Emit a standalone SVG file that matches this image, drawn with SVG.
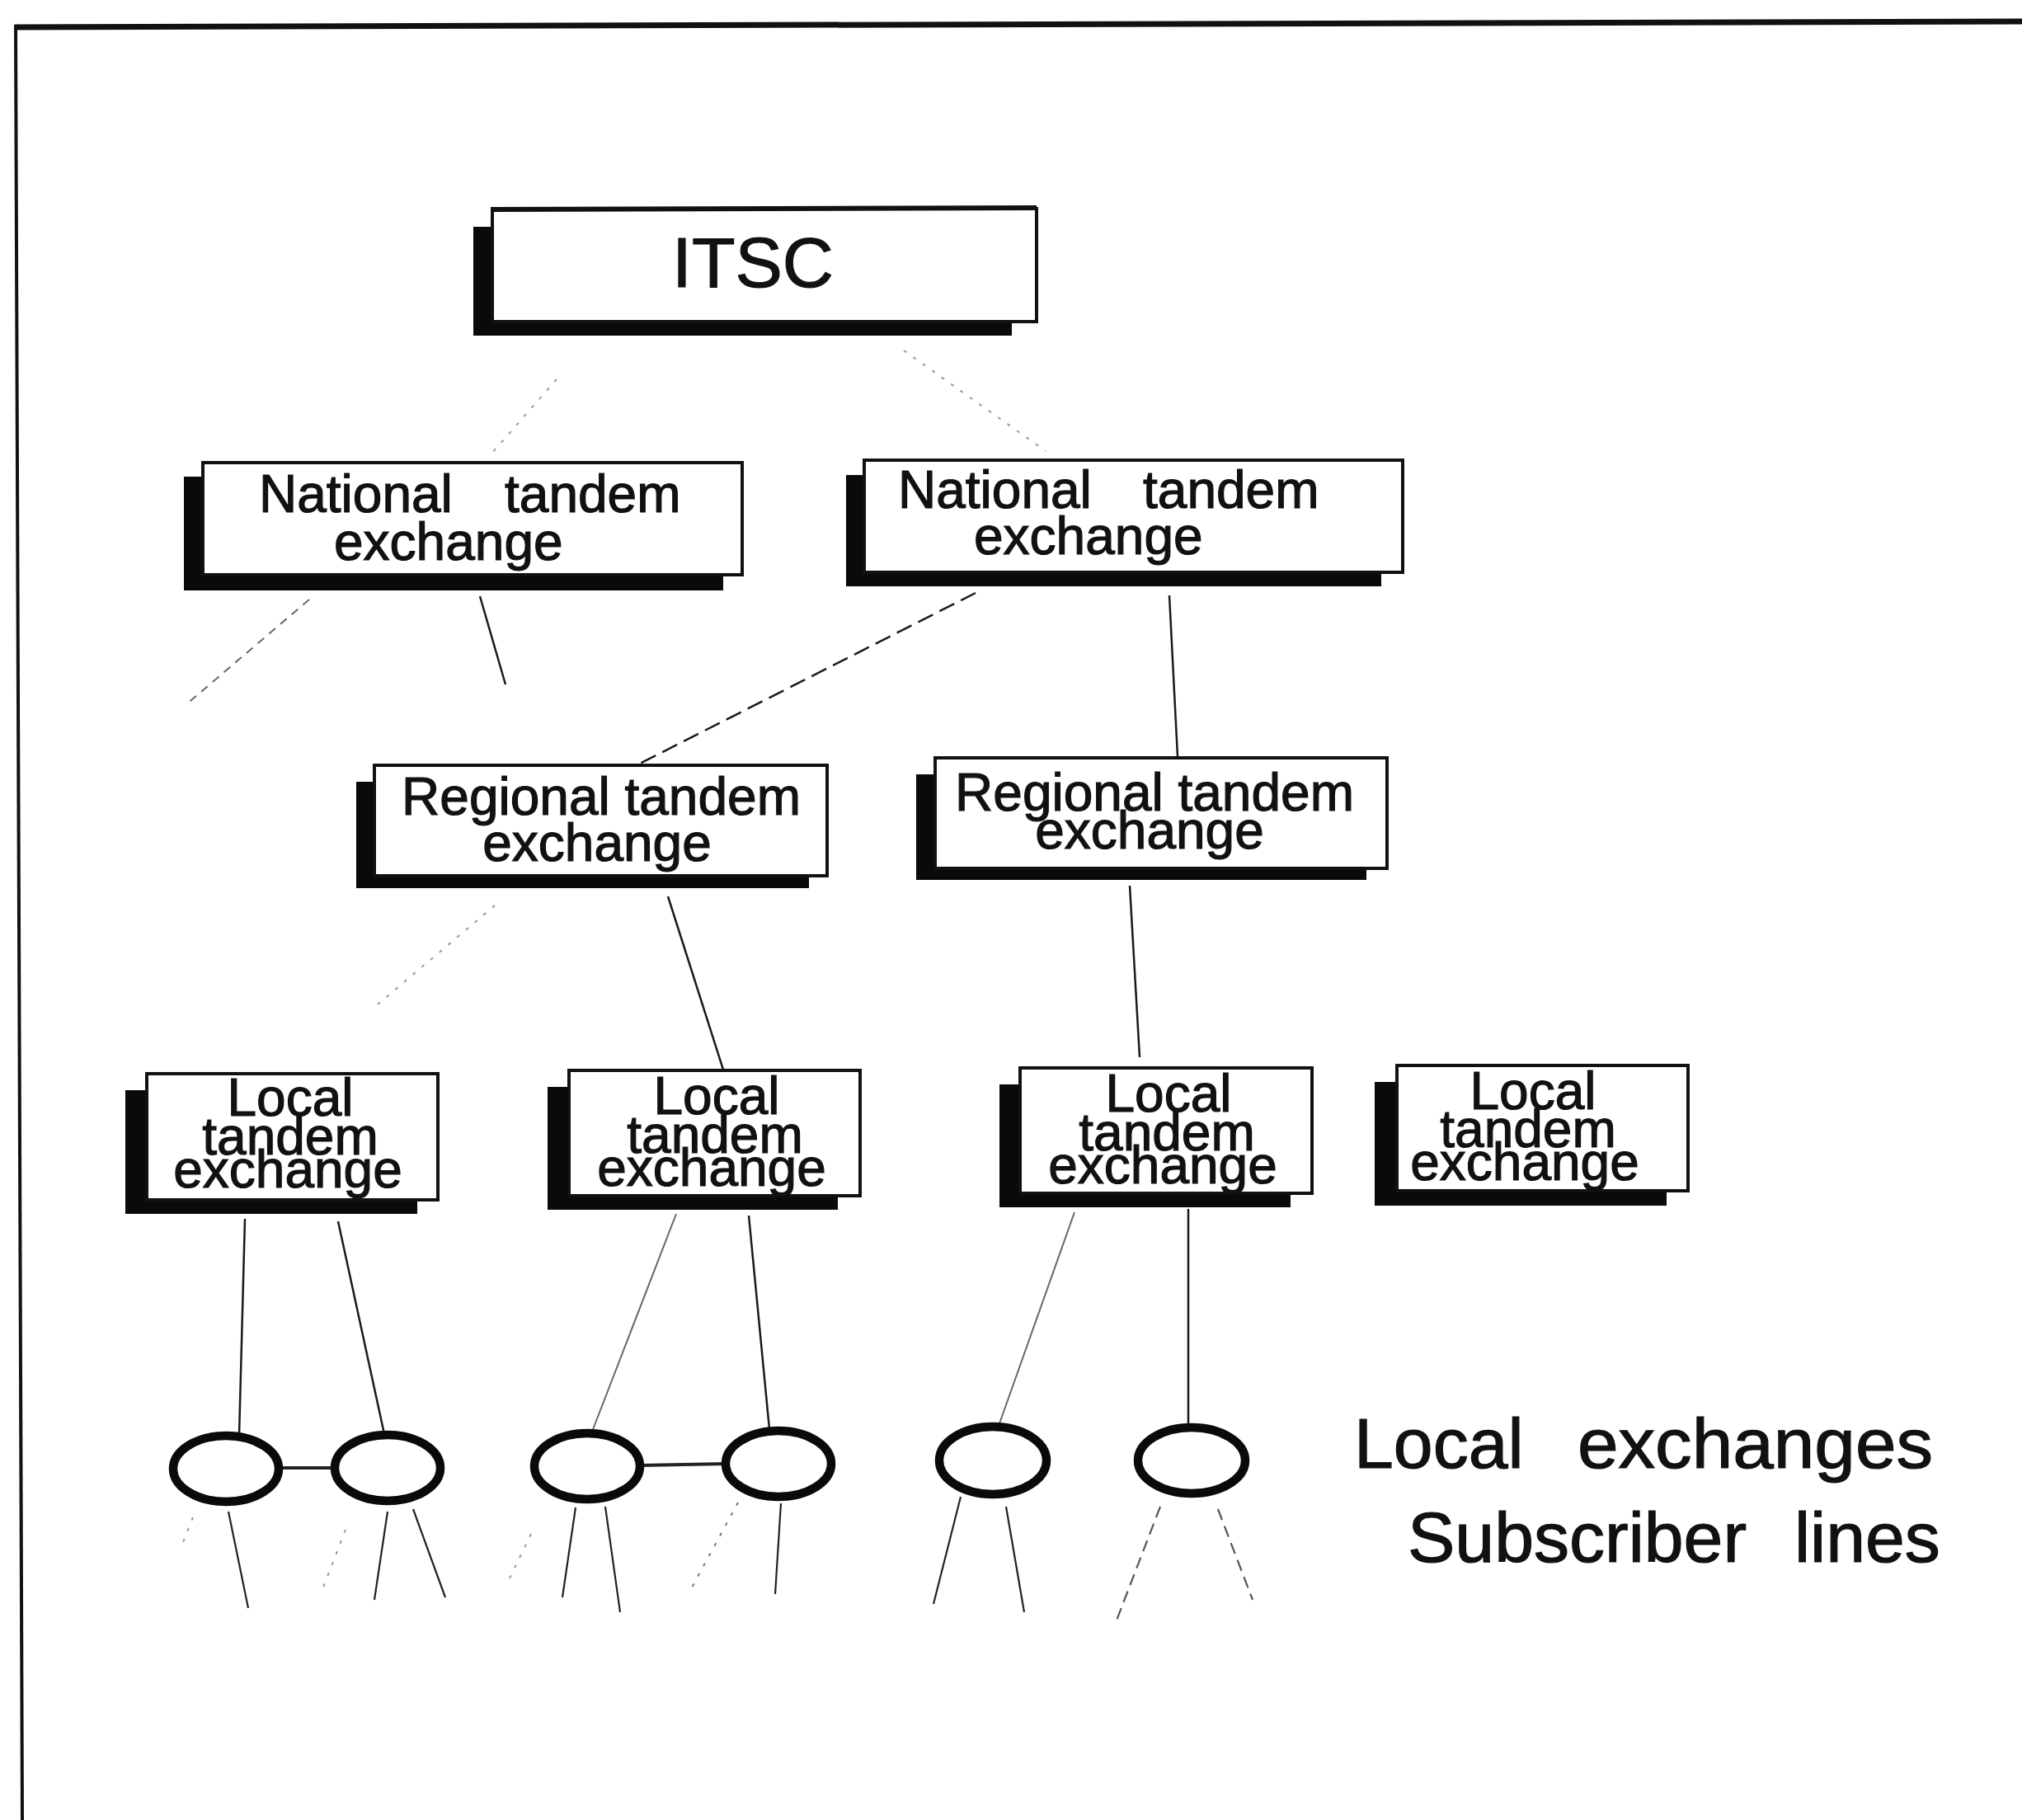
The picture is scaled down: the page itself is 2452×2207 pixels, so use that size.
<svg xmlns="http://www.w3.org/2000/svg" width="2452" height="2207" viewBox="0 0 2452 2207">
<style>
.shadow{fill:#0a0a0a}
.front{fill:#fff;stroke:#111;stroke-width:4}
.topedge{stroke:#111;stroke-width:6}
.t{font-family:"Liberation Sans",Arial,sans-serif;fill:#111;stroke:#111;stroke-width:1.2}
.n{font-size:64px}
.big{font-size:86px}
.c{stroke:#1a1a1a;stroke-width:2.5;fill:none}
.light{stroke:#666;stroke-width:2;fill:none}
.faint{stroke:#999;stroke-width:2;stroke-dasharray:4 10;fill:none}
.dash{stroke:#1a1a1a;stroke-width:2.5;stroke-dasharray:20 9;fill:none}
.sub{stroke:#222;stroke-width:2.2;fill:none}
.ex{fill:none;stroke:#0a0a0a;stroke-width:10.5}
</style>
<rect width="2452" height="2207" fill="#fff"/>
<g id="frame">
<line x1="18" y1="33" x2="2452" y2="26" stroke="#111" stroke-width="7"/>
<line x1="19" y1="30" x2="27" y2="2207" stroke="#111" stroke-width="4"/>
</g>
<g id="connectors">
<line class="faint" x1="675" y1="460" x2="596" y2="550"/>
<line class="faint" x1="1096" y1="425" x2="1268" y2="547"/>
<line class="faint" x1="375" y1="727" x2="225" y2="855" style="stroke:#666;stroke-dasharray:10 8"/>
<line class="c" x1="582" y1="723" x2="613" y2="830"/>
<line class="dash" x1="1183" y1="719" x2="762" y2="933"/>
<line class="c" x1="1418" y1="722" x2="1428" y2="917"/>
<line class="faint" x1="600" y1="1098" x2="452" y2="1223"/>
<line class="c" x1="810" y1="1087" x2="877" y2="1297"/>
<line class="c" x1="1370" y1="1074" x2="1382" y2="1282"/>
<line class="c" x1="297" y1="1478" x2="290" y2="1741"/>
<line class="c" x1="410" y1="1481" x2="466" y2="1739"/>
<line class="light" x1="820" y1="1472" x2="718" y2="1736"/>
<line class="c" x1="908" y1="1474" x2="933" y2="1733"/>
<line class="light" x1="1303" y1="1470" x2="1211" y2="1729"/>
<line class="c" x1="1441" y1="1466" x2="1441" y2="1730"/>
<line x1="338" y1="1780" x2="406" y2="1780" stroke="#222" stroke-width="4"/>
<line x1="776" y1="1777" x2="880" y2="1775" stroke="#222" stroke-width="4"/>
<line class="faint" x1="234" y1="1840" x2="222" y2="1870"/>
<line class="sub" x1="277" y1="1833" x2="301" y2="1950"/>
<line class="faint" x1="419" y1="1855" x2="390" y2="1930"/>
<line class="sub" x1="470" y1="1833" x2="454" y2="1940"/>
<line class="sub" x1="501" y1="1830" x2="540" y2="1937"/>
<line class="faint" x1="644" y1="1860" x2="615" y2="1920"/>
<line class="sub" x1="698" y1="1828" x2="682" y2="1937"/>
<line class="sub" x1="734" y1="1827" x2="752" y2="1955"/>
<line class="faint" x1="895" y1="1822" x2="839" y2="1925" style="stroke:#777"/>
<line class="sub" x1="947" y1="1823" x2="940" y2="1933"/>
<line class="sub" x1="1165" y1="1815" x2="1132" y2="1945"/>
<line class="sub" x1="1220" y1="1827" x2="1242" y2="1955"/>
<line class="sub" x1="1407" y1="1827" x2="1354" y2="1965" style="stroke-dasharray:14 8;stroke:#555"/>
<line class="sub" x1="1477" y1="1830" x2="1519" y2="1940" style="stroke-dasharray:14 8;stroke:#555"/>
</g>
<g id="itsc">
<rect class="shadow" x="574" y="275" width="653" height="132"/>
<rect class="front" x="597" y="253" width="660" height="137"/>
<line class="topedge" x1="597" y1="254" x2="1257" y2="252"/>
<text class="t big" x="913" y="348" text-anchor="middle">ITSC</text>
</g>
<g id="national1">
<rect class="shadow" x="223" y="578" width="654" height="138"/>
<rect class="front" x="246" y="561" width="654" height="136"/>
<text class="t n" y="621"><tspan x="314">National</tspan><tspan x="612">tandem</tspan></text>
<text class="t n" x="405" y="679">exchange</text>
</g>
<g id="national2">
<rect class="shadow" x="1026" y="576" width="649" height="135"/>
<rect class="front" x="1048" y="558" width="653" height="136"/>
<text class="t n" y="616"><tspan x="1089">National</tspan><tspan x="1386">tandem</tspan></text>
<text class="t n" x="1181" y="672">exchange</text>
</g>
<g id="regional1">
<rect class="shadow" x="432" y="948" width="549" height="129"/>
<rect class="front" x="454" y="928" width="549" height="134"/>
<text class="t n" x="729" y="988" text-anchor="middle">Regional tandem</text>
<text class="t n" x="724" y="1044" text-anchor="middle">exchange</text>
</g>
<g id="regional2">
<rect class="shadow" x="1111" y="939" width="546" height="128"/>
<rect class="front" x="1134" y="919" width="548" height="134"/>
<text class="t n" x="1400" y="983" text-anchor="middle">Regional tandem</text>
<text class="t n" x="1394" y="1029" text-anchor="middle">exchange</text>
</g>
<g id="local1">
<rect class="shadow" x="152" y="1322" width="354" height="150"/>
<rect class="front" x="178" y="1302" width="353" height="153"/>
<text class="t n" text-anchor="middle"><tspan x="352" y="1353">Local</tspan><tspan x="352" y="1400">tandem</tspan><tspan x="349" y="1440">exchange</tspan></text>
</g>
<g id="local2">
<rect class="shadow" x="664" y="1318" width="352" height="149"/>
<rect class="front" x="690" y="1298" width="353" height="152"/>
<text class="t n" text-anchor="middle"><tspan x="869" y="1351">Local</tspan><tspan x="867" y="1398">tandem</tspan><tspan x="863" y="1438">exchange</tspan></text>
</g>
<g id="local3">
<rect class="shadow" x="1212" y="1315" width="353" height="149"/>
<rect class="front" x="1237" y="1295" width="354" height="152"/>
<text class="t n" text-anchor="middle"><tspan x="1417" y="1348">Local</tspan><tspan x="1415" y="1395">tandem</tspan><tspan x="1410" y="1435">exchange</tspan></text>
</g>
<g id="local4">
<rect class="shadow" x="1667" y="1312" width="354" height="150"/>
<rect class="front" x="1694" y="1292" width="353" height="152"/>
<text class="t n" text-anchor="middle"><tspan x="1859" y="1345">Local</tspan><tspan x="1853" y="1391">tandem</tspan><tspan x="1849" y="1431">exchange</tspan></text>
</g>
<g id="exchanges">
<ellipse class="ex" cx="274" cy="1781" rx="64" ry="40"/>
<ellipse class="ex" cx="470" cy="1780" rx="64" ry="40"/>
<ellipse class="ex" cx="712" cy="1778" rx="64" ry="40"/>
<ellipse class="ex" cx="944" cy="1775" rx="64" ry="40"/>
<ellipse class="ex" cx="1204" cy="1771" rx="65" ry="41"/>
<ellipse class="ex" cx="1445" cy="1771" rx="65" ry="40"/>
</g>
<g id="legend">
<text class="t big" y="1780"><tspan x="1642">Local</tspan><tspan x="1913" textLength="431" lengthAdjust="spacingAndGlyphs">exchanges</tspan></text>
<text class="t big" y="1894"><tspan x="1707">Subscriber</tspan><tspan x="2176">lines</tspan></text>
</g>
</svg>
